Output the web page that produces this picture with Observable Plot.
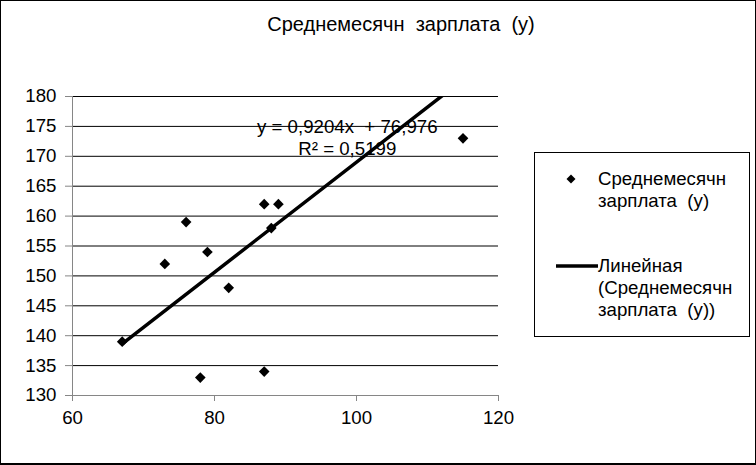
<!DOCTYPE html>
<html><head><meta charset="utf-8">
<script src="https://cdn.jsdelivr.net/npm/d3@7"></script>
<script src="https://cdn.jsdelivr.net/npm/@observablehq/plot@0.6"></script>
<style>
body{margin:0;background:#fff;font-family:"Liberation Sans",Arial,sans-serif;color:#000;}
#wrap{position:relative;width:756px;height:465px;overflow:hidden;background:#fff;}
#chart{position:absolute;left:0;top:0;}
#border{position:absolute;left:0;top:0;width:756px;height:465px;box-sizing:border-box;border:1px solid #000;border-bottom-width:2px;pointer-events:none;}
#title{position:absolute;left:0;width:802px;top:13px;text-align:center;font-size:20px;line-height:22px;white-space:pre;}
#legend{position:absolute;left:534px;top:152px;width:216px;height:185px;box-sizing:border-box;border:1px solid #000;background:#fff;}
.ltext{position:absolute;left:63px;font-size:18.67px;line-height:22px;white-space:pre;}
.sw{position:absolute;}
</style></head><body>
<div id="wrap">
  <div id="chart"></div>
  <div id="title"></div>
  <div id="legend">
    <svg class="sw" style="left:28px;top:18px" width="16" height="16"><path d="M8 3.5 L12.5 8 L8 12.5 L3.5 8 Z" fill="#000"/></svg>
    <div class="ltext" id="l1" style="top:15px"></div>
    <svg class="sw" style="left:20px;top:105px" width="44" height="16"><line x1="1" y1="8" x2="43" y2="8" stroke="#000" stroke-width="3.5"/></svg>
    <div class="ltext" id="l2" style="top:102px"></div>
  </div>
  <div id="border"></div>
</div>
<script>
// Data
const xValues = [67, 73, 76, 78, 79, 82, 87, 87, 88, 89, 115];
const yValues = [139, 152, 159, 133, 154, 148, 162, 134, 158, 162, 173];
const xTicks = [60, 80, 100, 120];
const yTicks = [130, 135, 140, 145, 150, 155, 160, 165, 170, 175, 180];
// Trendline as stated in the chart
const slope = 0.9204;
const intercept = 76.976;
const rSquared = "0,5199";
const equationText = "y = 0,9204x  + 76,976";
const chartTitle = "Среднемесячн  зарплата  (у)";
const seriesLabel = "Среднемесячн\nзарплата  (у)";
const trendLabel = "Линейная\n(Среднемесячн\nзарплата  (у))";
const eqAnchor = {x: 98.7, y: 173.3};

const points = xValues.map((x, i) => ({x, y: yValues[i]}));
const xMin = d3.min(xValues), xMax = d3.max(xValues);
const trend = [xMin, xMax].map(x => ({x, y: slope * x + intercept}));

document.getElementById("title").textContent = chartTitle;
document.getElementById("l1").textContent = seriesLabel;
document.getElementById("l2").textContent = trendLabel;

const FS = 18.67;
const plot = Plot.plot({
  width: 756,
  height: 465,
  marginLeft: 72,
  marginRight: 258,
  marginTop: 96,
  marginBottom: 70,
  style: {fontFamily: "Liberation Sans, Arial, sans-serif", fontSize: FS + "px", color: "#000", background: "transparent", whiteSpace: "pre"},
  x: {domain: [xTicks[0], xTicks[xTicks.length - 1]]},
  y: {domain: [yTicks[0], yTicks[yTicks.length - 1]]},
  marks: [
    Plot.ruleY(yTicks.filter(d => d > yTicks[0]), {stroke: "#000", strokeWidth: 1}),
    Plot.ruleX([xTicks[0]], {stroke: "#868686", strokeWidth: 1}),
    Plot.ruleY([yTicks[0]], {stroke: "#868686", strokeWidth: 1}),
    Plot.axisY({ticks: yTicks, tickSize: 7, tickPadding: 9, stroke: "#868686", fill: "#000", fontSize: FS, label: null, tickFormat: d => String(d)}),
    Plot.axisX({ticks: xTicks, tickSize: 6, tickPadding: 9, stroke: "#868686", fill: "#000", fontSize: FS, label: null, tickFormat: d => String(d)}),
    Plot.line(trend, {x: "x", y: "y", stroke: "#000", strokeWidth: 3.5, clip: true}),
    Plot.dot(points, {x: "x", y: "y", symbol: "diamond2", r: 4.8, fill: "#000", stroke: "none"}),
    Plot.text([{label: equationText + "\nR² = " + rSquared, ...eqAnchor}], {x: "x", y: "y", text: "label", fontSize: FS, fill: "#000", lineHeight: 22 / FS, textAnchor: "middle"})
  ]
});
document.getElementById("chart").appendChild(plot);
</script>
</body></html>
